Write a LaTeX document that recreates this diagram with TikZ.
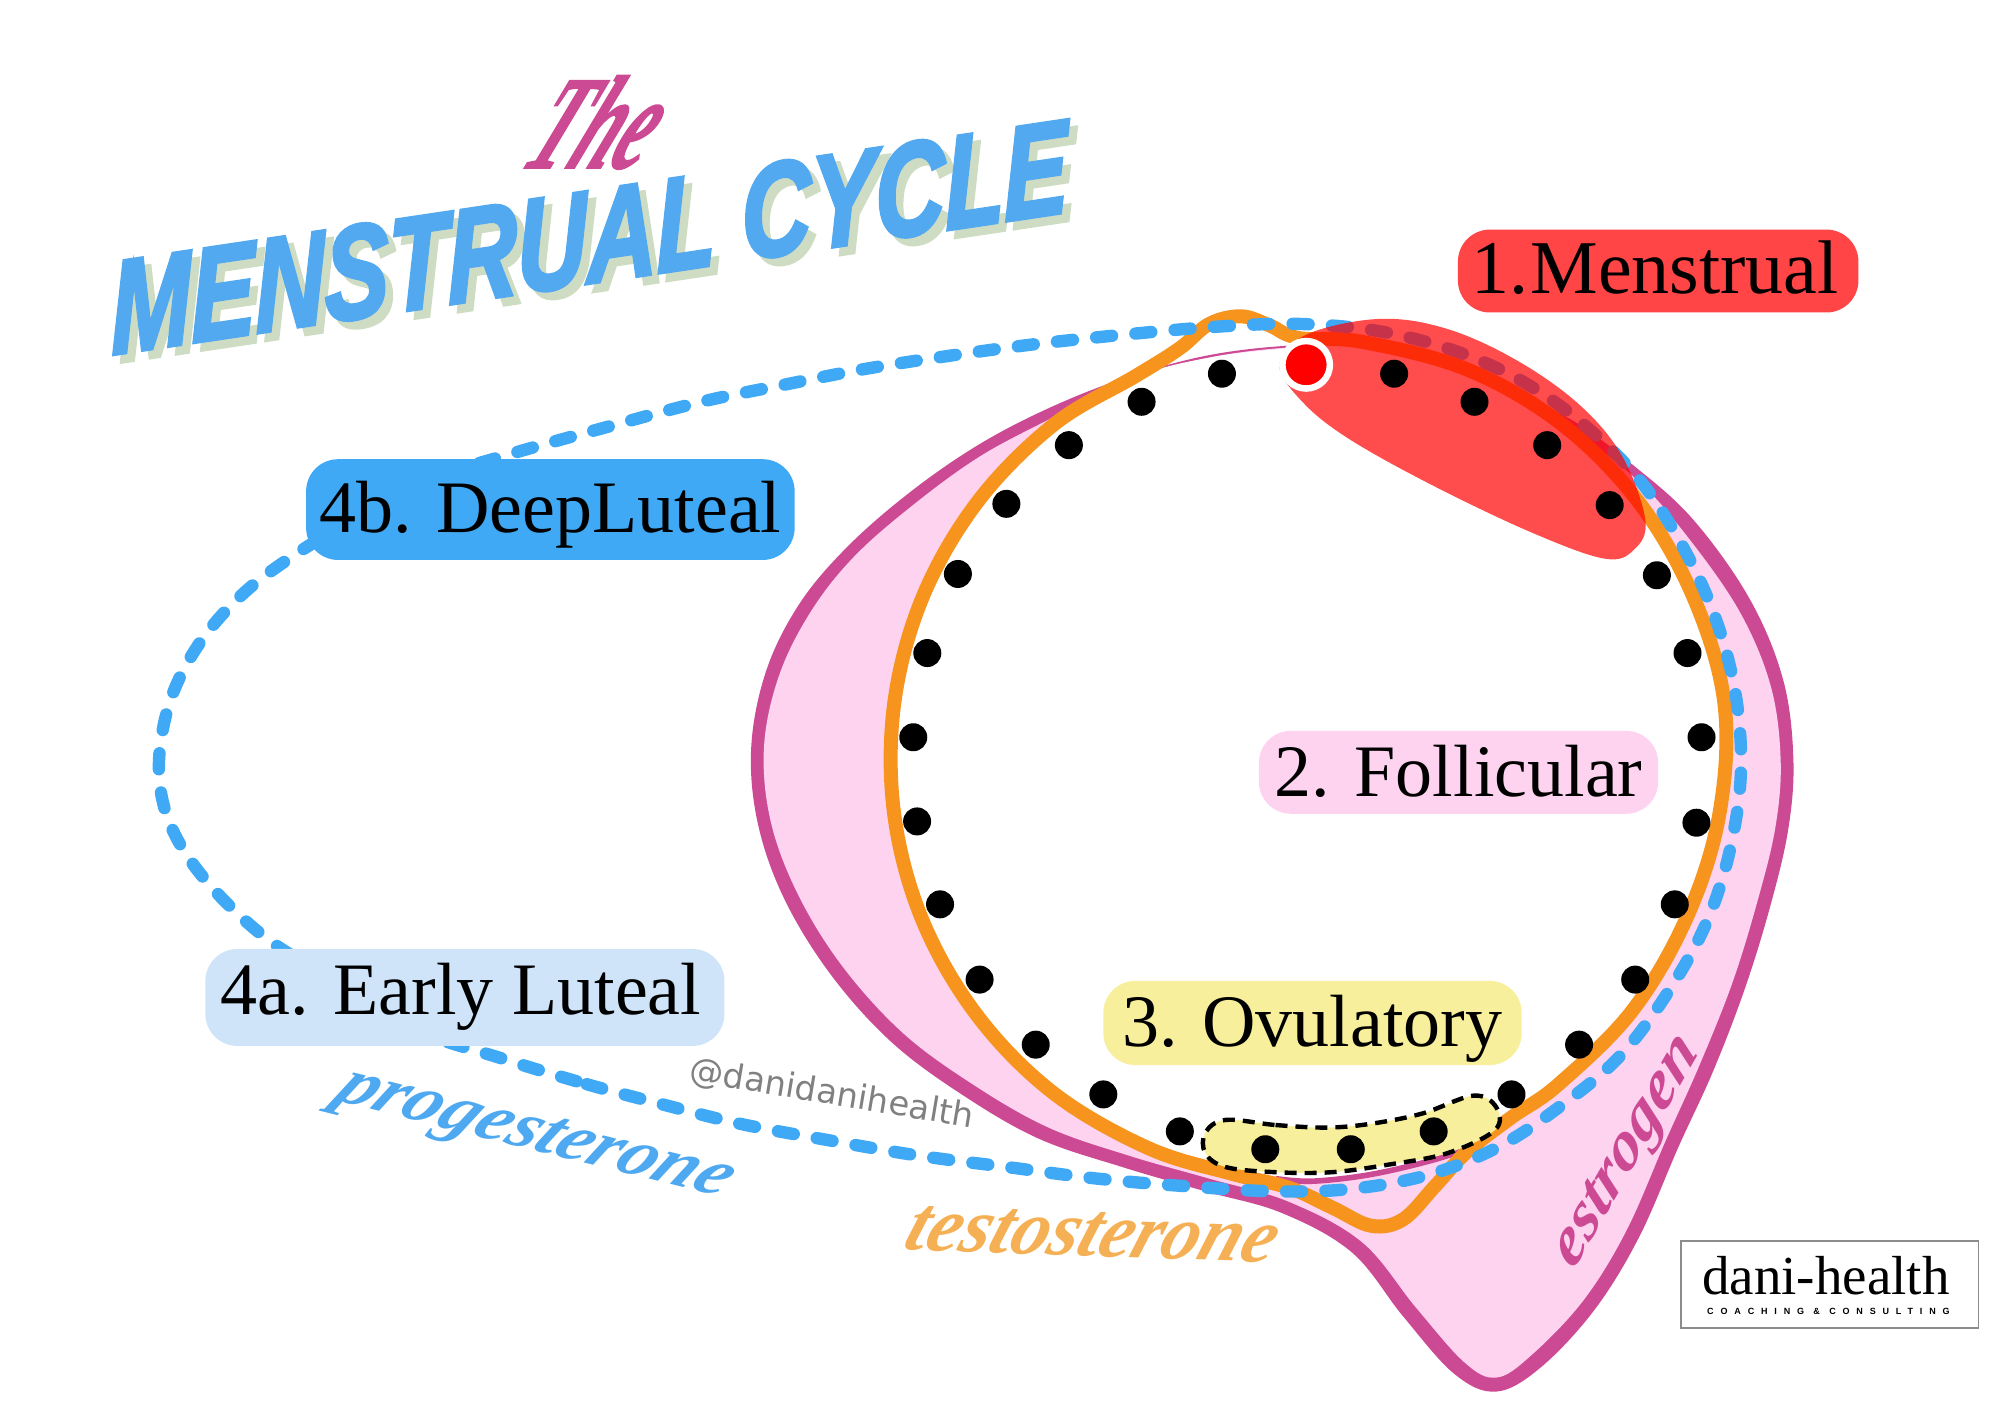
\documentclass[tikz,border=0pt]{standalone}
\usepackage{fontspec}
\setmainfont{Liberation Serif}
\newfontfamily\titlefont[FakeBold=3]{Liberation Sans}
\newfontfamily\brushfont{Liberation Serif}
\newfontfamily\brushheavy[FakeBold=1.6]{Liberation Serif}
\newfontfamily\handlefont{DejaVu Sans}
\newfontfamily\tagfont[LetterSpace=76]{Liberation Sans}
\definecolor{magentaline}{HTML}{CC4A94}
\definecolor{pinkfill}{HTML}{FDD3EF}
\definecolor{orangeline}{HTML}{F6941E}
\definecolor{blueline}{HTML}{3FA9F5}
\definecolor{titleblue}{HTML}{52A9F0}
\definecolor{titleshadow}{HTML}{CFDCC4}
\definecolor{redbox}{HTML}{FF4545}
\definecolor{yellowbox}{HTML}{F8EF9C}
\definecolor{palebluebox}{HTML}{CFE4F8}
\definecolor{testo}{HTML}{F5B055}
\definecolor{proges}{HTML}{4FA9F0}
\tikzset{
  phasebox/.style={rectangle,rounded corners=16pt,inner sep=0pt,text=black,
    text depth=6pt,font=\fontsize{37}{40}\selectfont},
  dotmark/.style={circle,fill=black,inner sep=0pt,minimum size=14pt},
  brush/.style={inner sep=0pt,font=\brushfont\bfseries\itshape},
}
\begin{document}
\begin{tikzpicture}[x=0.6378pt,y=-0.6378pt]
\useasboundingbox (0,0) rectangle (1568,1108.5);
% estrogen
\fill[magentaline] plot[smooth cycle,tension=.6] coordinates {(1010,271)(945,279)(880,297)(820,321)(765,350)(712,387)(664,429)(627,473)(601,525)(589,585)(594,645)(615,705)(652,765)(700,818)(757,860)(815,893)(880,915)(945,934)(1005,951)(1060,982)(1100,1032)(1140,1077)(1173,1091)(1208,1072)(1250,1027)(1285,970)(1316,899)(1343,840)(1368,775)(1388,710)(1402,650)(1406,595)(1398,533)(1372,470)(1328,408)(1282,366)(1230,328)(1170,302)(1115,284)(1060,272)};
\fill[pinkfill] plot[smooth cycle,tension=.6] coordinates {(1010,272.5)(945,281)(880,300)(822,329)(768,358)(717,395)(670,436)(636,479)(611,529)(599,585)(604,643)(625,700)(660,757)(708,810)(764,851)(822,884)(885,906)(948,924)(1010,942)(1068,974)(1110,1025)(1148,1068)(1173,1080)(1200,1063)(1241,1020)(1275,965)(1306,894)(1332,836)(1358,771)(1378,706)(1392,648)(1396,595)(1388,537)(1363,478)(1320,417)(1282,375)(1230,336)(1170,308)(1115,288)(1060,274)};
\fill[white] plot[smooth cycle,tension=.6] coordinates {(1010,273)(950,280)(890,296)(826,333)(766,394)(723,469)(701,552)(701,638)(723,721)(766,796)(826,857)(900,900)(965,917)(1020,925)(1079,919)(1135,905)(1185,876)(1222,850)(1280,792)(1323,718)(1348,638)(1352,552)(1328,469)(1285,394)(1225,333)(1151,290)(1068,268)};
\draw[magentaline,line width=2.8pt] plot[smooth,tension=.6] coordinates {(1000,924)(1030,926)(1079,920)(1135,906)(1155,895)};
% testosterone
\draw[orangeline,line width=7pt,line join=round] plot[smooth cycle,tension=.6] coordinates {(1018,265)(995,255)(973,248)(948,254)(925,273)(890,295)(826,333)(766,394)(723,469)(701,552)(701,638)(723,721)(766,796)(826,857)(900,900)(965,920)(1010,931)(1045,947)(1075,961)(1100,956)(1125,930)(1150,903)(1185,876)(1222,850)(1280,792)(1323,718)(1348,638)(1352,552)(1328,469)(1285,394)(1225,333)(1151,290)(1068,268)};
% progesterone
\draw[blueline,line width=6.2pt,line cap=round,dash pattern=on 8pt off 11.7pt] plot[smooth cycle,tension=.6] coordinates {(394,830)(460,850)(520,866)(580,881)(650,894)(720,906)(790,915)(860,924)(930,930)(1000,934)(1060,932)(1120,921)(1175,899)(1225,866)(1270,828)(1307,779)(1338,723)(1357,663)(1365,599)(1358,530)(1335,460)(1295,389)(1252,342)(1202,304)(1146,277)(1083,260)(1020,254)(956,256)(885,262)(810,270)(737,280)(674,290)(613,302)(550,315)(475,335)(400,356)(330,378)(280,405)(228,437)(190,466)(158,502)(135,545)(125,591)(128,630)(143,665)(170,700)(208,735)(250,762)(320,805)};
% ovulatory window
\draw[black,fill=yellowbox,line width=2.2pt,dash pattern=on 6pt off 4pt] plot[smooth cycle,tension=.6] coordinates {(961,878)(1000,882)(1040,884)(1075,881)(1115,873)(1155,859)(1173,868)(1172,886)(1135,904)(1089,913)(1044,919)(1000,919)(961,915)(945,904)(945,888)};
% menstrual window
\fill[red,opacity=.7] plot[smooth cycle,tension=.6] coordinates {(1025,262)(1082,250)(1135,258)(1190,283)(1239,318)(1272,358)(1290,408)(1281,431)(1258,438)(1202,418)(1126,382)(1059,345)(1022,316)(1003,286)};
% days
\foreach \n/\p in {1/{958,293},2/{895,315},3/{838,349},4/{789,395},5/{751,450},6/{727,512},7/{716,578},8/{719,644},9/{737,709},10/{768,768},11/{812,819},12/{865,858},13/{925,887},14/{992,901},15/{1059,901},16/{1124,887},17/{1185,858},18/{1238,819},19/{1282,768},20/{1313,709},21/{1330,645},22/{1334,578},23/{1323,512},24/{1299,451},25/{1262,396},26/{1213,349},27/{1156,315},28/{1093,293}}
  \node[dotmark] (day\n) at (\p) {};
\node[circle,fill=red,draw=white,line width=3.25pt,inner sep=0pt,minimum size=23.75pt] (dayone) at (1024,286) {};
% phase labels
\node[phasebox,fill=redbox,text height=28.6pt,minimum width={314*0.6378pt},minimum height={65*0.6378pt}] (menstrual) at (1300,212.5) {\fontsize{38}{40}\selectfont\kern-3pt 1.\kern1pt Menstrual};
\node[phasebox,fill=pinkfill,text height=29.8pt,minimum width={313*0.6378pt},minimum height={65*0.6378pt}] (follicular) at (1143.5,605.5) {2. Follicular};
\node[phasebox,fill=yellowbox,text height=29.8pt,minimum width={328*0.6378pt},minimum height={66*0.6378pt}] (ovulatory) at (1029,802) {3. Ovulatory};
\node[phasebox,fill=palebluebox,text height=23.4pt,minimum width={407*0.6378pt},minimum height={76*0.6378pt}] (early) at (364.5,782) {\kern-4pt 4a. Early Luteal};
\node[phasebox,fill=blueline,text height=28.6pt,minimum width={383*0.6378pt},minimum height={79*0.6378pt}] (deep) at (431.5,399.5) {4b. DeepLuteal};
% title
\node[inner sep=0pt,rotate=8.5,xslant=.12,text=titleshadow] (titleshade) at (468,192) {\resizebox{484pt}{46pt}{\titlefont\bfseries\itshape MENSTRUAL CYCLE}};
\node[inner sep=0pt,rotate=8.5,xslant=.12,text=titleblue] (titlemain) at (462,186) {\resizebox{484pt}{46pt}{\titlefont\bfseries\itshape MENSTRUAL CYCLE}};
\node[inner sep=0pt,xslant=.5,text=magentaline] (the) at (471,96) {\resizebox{60pt}{46pt}{\brushheavy\bfseries\itshape The}};
% hormones
\node[brush,rotate=-14,xslant=.35,text=proges] (prog) at (418,892) {\resizebox{200pt}{19pt}{progesterone}};
\node[brush,rotate=-2,xslant=.3,text=testo] (test) at (857,968) {\resizebox{184pt}{22pt}{testosterone}};
\node[brush,rotate=60,xslant=.3,text=magentaline] (estr) at (1277,905) {\resizebox{126pt}{17pt}{estrogen}};
\node[inner sep=0pt,rotate=-9.5,text=black!50,font=\handlefont\fontsize{16.9}{18}\selectfont] (handle) at (652,858) {@danidanihealth};
% logo
\node[draw=black!45,line width=.7pt,fill=white,inner sep=0pt,minimum width={233*0.6378pt},minimum height={68*0.6378pt}] (logo) at (1434.5,1007) {};
\node[inner sep=0pt,font=\fontsize{27.5}{29}\selectfont] (logoname) at (1431.5,1000) {dani-health};
\node[inner sep=0pt,font=\tagfont\bfseries\fontsize{4.5}{6}\selectfont] (logotag) at (1433.5,1028) {COACHING \& CONSULTING};
\end{tikzpicture}
\end{document}
